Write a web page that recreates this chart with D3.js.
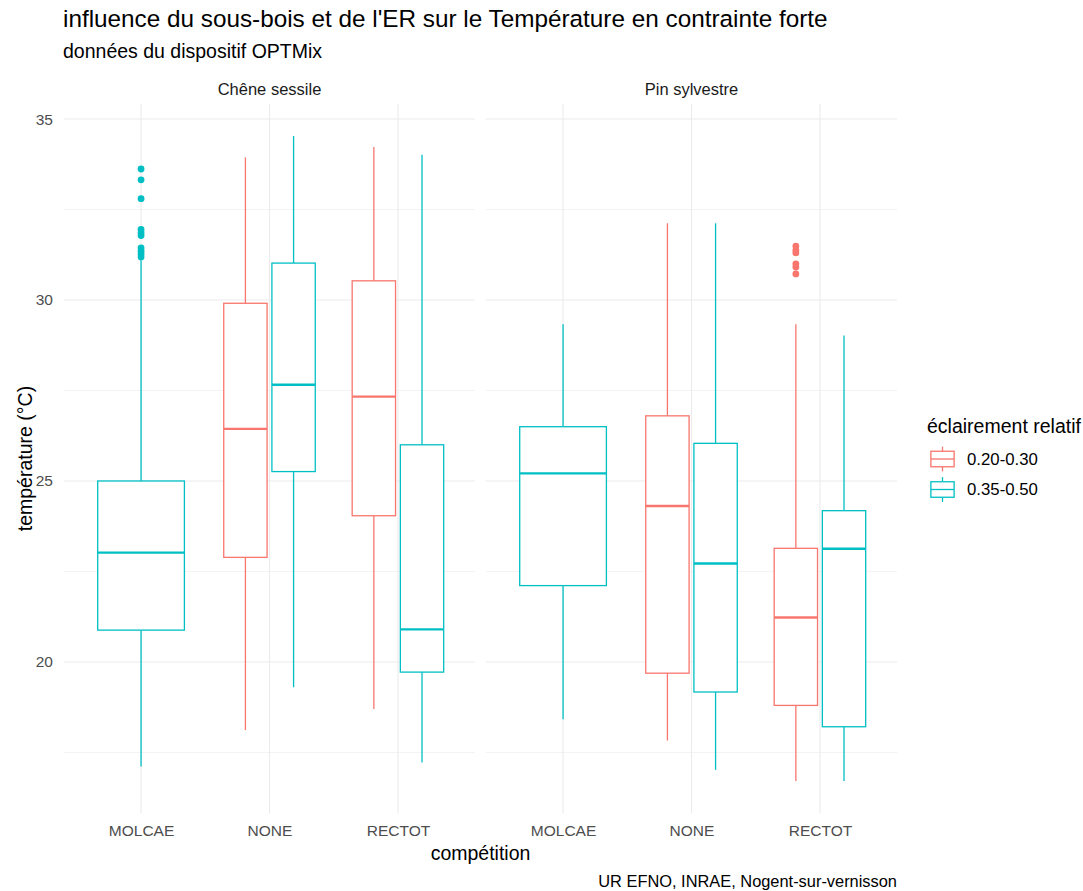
<!DOCTYPE html>
<html>
<head>
<meta charset="utf-8">
<script src="https://cdn.jsdelivr.net/npm/d3@7"></script>
<style>
  html, body { margin: 0; padding: 0; background: #ffffff; }
  svg { display: block; font-family: "Liberation Sans", Arial, sans-serif; }
</style>
</head>
<body>
<svg id="chart" width="1083" height="891"></svg>
<script>
// Facets, categories and groups
const facets = ["Chêne sessile", "Pin sylvestre"];
const competitions = ["MOLCAE", "NONE", "RECTOT"];
const lightLevels = ["0.20-0.30", "0.35-0.50"];
const yTicks = [20, 25, 30, 35];

// Box statistics (°C), one entry per box
const boxFacet       = ["Chêne sessile", "Chêne sessile", "Chêne sessile", "Chêne sessile", "Chêne sessile",
                        "Pin sylvestre", "Pin sylvestre", "Pin sylvestre", "Pin sylvestre", "Pin sylvestre"];
const boxCompetition = ["MOLCAE", "NONE", "NONE", "RECTOT", "RECTOT",
                        "MOLCAE", "NONE", "NONE", "RECTOT", "RECTOT"];
const boxLight       = ["0.35-0.50", "0.20-0.30", "0.35-0.50", "0.20-0.30", "0.35-0.50",
                        "0.35-0.50", "0.20-0.30", "0.35-0.50", "0.20-0.30", "0.35-0.50"];
const whiskerLow     = [17.11, 18.12, 19.30, 18.70, 17.22, 18.42, 17.83, 17.02, 16.71, 16.71];
const quartile1      = [20.88, 22.89, 25.26, 24.04, 19.72, 22.11, 19.69, 19.17, 18.80, 18.21];
const medianValue    = [23.02, 26.44, 27.66, 27.33, 20.90, 25.21, 24.31, 22.72, 21.23, 23.13];
const quartile3      = [25.00, 29.91, 31.02, 30.53, 26.00, 26.50, 26.80, 26.04, 23.14, 24.18];
const whiskerHigh    = [31.10, 33.94, 34.53, 34.23, 34.01, 29.33, 32.12, 32.12, 29.33, 29.02];

// Outlying observations
const outlierFacet       = ["Chêne sessile", "Chêne sessile", "Chêne sessile", "Chêne sessile", "Chêne sessile",
                            "Chêne sessile", "Chêne sessile", "Chêne sessile", "Chêne sessile", "Chêne sessile",
                            "Pin sylvestre", "Pin sylvestre", "Pin sylvestre", "Pin sylvestre", "Pin sylvestre", "Pin sylvestre"];
const outlierCompetition = ["MOLCAE", "MOLCAE", "MOLCAE", "MOLCAE", "MOLCAE", "MOLCAE", "MOLCAE", "MOLCAE", "MOLCAE", "MOLCAE",
                            "RECTOT", "RECTOT", "RECTOT", "RECTOT", "RECTOT", "RECTOT"];
const outlierLight       = ["0.35-0.50", "0.35-0.50", "0.35-0.50", "0.35-0.50", "0.35-0.50",
                            "0.35-0.50", "0.35-0.50", "0.35-0.50", "0.35-0.50", "0.35-0.50",
                            "0.20-0.30", "0.20-0.30", "0.20-0.30", "0.20-0.30", "0.20-0.30", "0.20-0.30"];
const outlierValue       = [33.62, 33.32, 32.80, 31.95, 31.86, 31.78, 31.44, 31.35, 31.27, 31.19,
                            31.49, 31.38, 31.30, 31.00, 30.91, 30.72];

const titleText = "influence du sous-bois et de l'ER sur le Température en contrainte forte";
const subtitleText = "données du dispositif OPTMix";
const xTitle = "compétition";
const yTitle = "température (°C)";
const legendTitle = "éclairement relatif";
const captionText = "UR EFNO, INRAE, Nogent-sur-vernisson";

// Layout
const panelTop = 103.8, panelBottom = 813.3;
const panels = [{ x0: 64, x1: 475 }, { x0: 486, x1: 897 }];
const gridColor = "#ebebeb";
const lineW = 1.3;
const colour = d3.scaleOrdinal().domain(lightLevels).range(["#F8766D", "#00BFC4"]);

const svg = d3.select("#chart");

// Shared y scale with 5% expansion around the data range
const allValues = whiskerLow.concat(whiskerHigh, outlierValue);
const yMin = d3.min(allValues), yMax = d3.max(allValues);
const pad = (yMax - yMin) * 0.05;
const y = d3.scaleLinear().domain([yMin - pad, yMax + pad]).range([panelBottom, panelTop]);
const minorTicks = yTicks.slice(0, -1).map((t, i) => (t + yTicks[i + 1]) / 2)
  .concat([yTicks[0] - 2.5]).filter(v => v >= y.domain()[0] && v <= y.domain()[1]);

const boxes = boxFacet.map((f, i) => ({
  facet: f, comp: boxCompetition[i], light: boxLight[i],
  lo: whiskerLow[i], q1: quartile1[i], med: medianValue[i], q3: quartile3[i], hi: whiskerHigh[i]
}));
const outliers = outlierFacet.map((f, i) => ({
  facet: f, comp: outlierCompetition[i], light: outlierLight[i], v: outlierValue[i]
}));

facets.forEach((facet, fi) => {
  const p = panels[fi];
  const x = d3.scalePoint().domain(competitions).range([p.x0, p.x1]).padding(0.6);
  const step = x.step();
  const g = svg.append("g");

  // grid
  g.selectAll(".minor").data(minorTicks).join("line")
    .attr("x1", p.x0).attr("x2", p.x1)
    .attr("y1", d => y(d)).attr("y2", d => y(d))
    .attr("stroke", gridColor).attr("stroke-width", 0.6);
  g.selectAll(".major").data(yTicks).join("line")
    .attr("x1", p.x0).attr("x2", p.x1)
    .attr("y1", d => y(d)).attr("y2", d => y(d))
    .attr("stroke", gridColor).attr("stroke-width", 1.1);
  g.selectAll(".vgrid").data(competitions).join("line")
    .attr("x1", d => x(d)).attr("x2", d => x(d))
    .attr("y1", panelTop).attr("y2", panelBottom)
    .attr("stroke", gridColor).attr("stroke-width", 1.1);

  // dodge positions
  const fb = boxes.filter(b => b.facet === facet);
  fb.forEach(b => {
    const n = fb.filter(o => o.comp === b.comp).length;
    const slot = 0.75 / n;
    const idx = n === 1 ? 0 : lightLevels.indexOf(b.light);
    b.cx = x(b.comp) + (-0.375 + slot * (idx + 0.5)) * step;
    b.w = slot * 0.9 * step;
  });

  const bg = g.selectAll(".box").data(fb).join("g");
  bg.append("line")
    .attr("x1", d => d.cx).attr("x2", d => d.cx)
    .attr("y1", d => y(d.hi)).attr("y2", d => y(d.q3))
    .attr("stroke", d => colour(d.light)).attr("stroke-width", lineW);
  bg.append("line")
    .attr("x1", d => d.cx).attr("x2", d => d.cx)
    .attr("y1", d => y(d.q1)).attr("y2", d => y(d.lo))
    .attr("stroke", d => colour(d.light)).attr("stroke-width", lineW);
  bg.append("rect")
    .attr("x", d => d.cx - d.w / 2).attr("width", d => d.w)
    .attr("y", d => y(d.q3)).attr("height", d => y(d.q1) - y(d.q3))
    .attr("fill", "#ffffff").attr("stroke", d => colour(d.light)).attr("stroke-width", lineW);
  bg.append("line")
    .attr("x1", d => d.cx - d.w / 2).attr("x2", d => d.cx + d.w / 2)
    .attr("y1", d => y(d.med)).attr("y2", d => y(d.med))
    .attr("stroke", d => colour(d.light)).attr("stroke-width", 2.4);

  // outliers
  g.selectAll(".out").data(outliers.filter(o => o.facet === facet)).join("circle")
    .attr("cx", d => fb.find(b => b.comp === d.comp && b.light === d.light).cx)
    .attr("cy", d => y(d.v)).attr("r", 3.4)
    .attr("fill", d => colour(d.light));

  // strip label
  svg.append("text").attr("x", (p.x0 + p.x1) / 2).attr("y", 95)
    .attr("text-anchor", "middle").attr("font-size", 16.5).attr("fill", "#1a1a1a")
    .text(facet);

  // x axis
  const xa = svg.append("g").attr("transform", `translate(0,${panelBottom})`)
    .call(d3.axisBottom(x).tickSize(0).tickPadding(12));
  xa.select(".domain").remove();
  xa.selectAll("text").attr("font-size", 15.5).attr("fill", "#4d4d4d")
    .attr("font-family", "Liberation Sans, Arial, sans-serif");
});

// y axis
const ya = svg.append("g").attr("transform", `translate(${panels[0].x0 - 7},0)`)
  .call(d3.axisLeft(y).tickValues(yTicks).tickSize(0).tickPadding(4));
ya.select(".domain").remove();
ya.selectAll("text").attr("font-size", 15.5).attr("fill", "#4d4d4d")
  .attr("font-family", "Liberation Sans, Arial, sans-serif");

// titles
svg.append("text").attr("x", 63).attr("y", 27).attr("font-size", 24.3).attr("fill", "#000")
  .text(titleText);
svg.append("text").attr("x", 63).attr("y", 58).attr("font-size", 19.5).attr("fill", "#000")
  .text(subtitleText);
svg.append("text").attr("x", (panels[0].x0 + panels[1].x1) / 2).attr("y", 860)
  .attr("text-anchor", "middle").attr("font-size", 19.5).attr("fill", "#000").text(xTitle);
svg.append("text").attr("transform", `translate(32,${(panelTop + panelBottom) / 2}) rotate(-90)`)
  .attr("text-anchor", "middle").attr("font-size", 19.5).attr("fill", "#000").text(yTitle);
svg.append("text").attr("x", panels[1].x1).attr("y", 887).attr("text-anchor", "end")
  .attr("font-size", 16.4).attr("fill", "#000").text(captionText);

// legend
const lg = svg.append("g").attr("transform", "translate(927,0)");
lg.append("text").attr("x", 0).attr("y", 433).attr("font-size", 19.5).attr("fill", "#000").text(legendTitle);
const keySize = 31;
lightLevels.forEach((lvl, i) => {
  const top = 443.5 + i * 30.5;
  const c = colour(lvl);
  const k = lg.append("g").attr("transform", `translate(0,${top})`);
  k.append("line").attr("x1", keySize / 2).attr("x2", keySize / 2)
    .attr("y1", keySize * 0.1).attr("y2", keySize * 0.25).attr("stroke", c).attr("stroke-width", lineW);
  k.append("line").attr("x1", keySize / 2).attr("x2", keySize / 2)
    .attr("y1", keySize * 0.75).attr("y2", keySize * 0.9).attr("stroke", c).attr("stroke-width", lineW);
  k.append("rect").attr("x", keySize * 0.125).attr("width", keySize * 0.75)
    .attr("y", keySize * 0.25).attr("height", keySize * 0.5)
    .attr("fill", "#fff").attr("stroke", c).attr("stroke-width", lineW);
  k.append("line").attr("x1", keySize * 0.125).attr("x2", keySize * 0.875)
    .attr("y1", keySize / 2).attr("y2", keySize / 2).attr("stroke", c).attr("stroke-width", lineW);
  lg.append("text").attr("x", 40).attr("y", top + keySize / 2 + 5.5)
    .attr("font-size", 16.8).attr("fill", "#000").text(lvl);
});
</script>
</body>
</html>
